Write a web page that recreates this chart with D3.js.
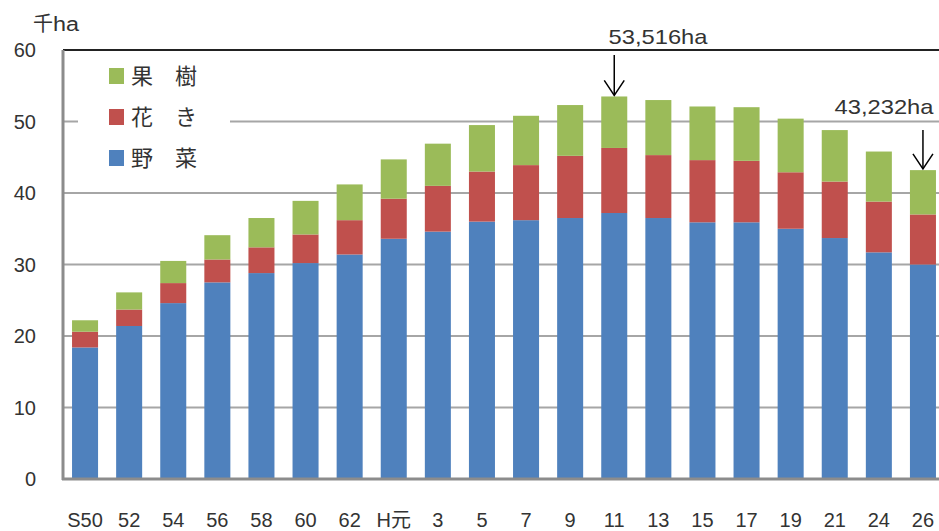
<!DOCTYPE html>
<html><head><meta charset="utf-8">
<script src="https://cdn.jsdelivr.net/npm/d3@7/dist/d3.min.js"></script>
<style>html,body{margin:0;padding:0;background:#fff;}svg{display:block;}</style>
</head><body>
<script>
const categories = ["S50","52","54","56","58","60","62","H元","3","5","7","9","11","13","15","17","19","21","24","26"];
const vegetables = [18.4,21.4,24.6,27.5,28.8,30.2,31.4,33.6,34.6,36.0,36.2,36.5,37.2,36.5,35.9,35.9,35.0,33.7,31.7,30.0];
const flowers    = [2.2,2.3,2.8,3.2,3.6,4.0,4.8,5.6,6.4,7.0,7.7,8.7,9.1,8.8,8.7,8.6,7.9,7.9,7.1,7.0];
const fruits     = [1.6,2.4,3.1,3.4,4.1,4.7,5.0,5.5,5.9,6.5,6.9,7.1,7.2,7.7,7.5,7.5,7.5,7.2,7.0,6.2];
const seriesNames = ["野　菜","花　き","果　樹"];
const seriesColors = ["#4F81BD","#C0504D","#9BBB59"];
const yTicks = [0,10,20,30,40,50,60];
const annotations = [{cat:"11", label:"53,516ha", value:53.516}, {cat:"26", label:"43,232ha", value:43.232}];

const W = 939, H = 531;
const svg = d3.select("body").append("svg").attr("width",W).attr("height",H);
const x = d3.scaleBand().domain(categories).range([63,945]).paddingInner(0.41).paddingOuter(0.205);
const y = d3.scaleLinear().domain([0,60]).range([479,50]);
const textColor = "#333";

// gridlines
svg.append("g").selectAll("line").data(yTicks.filter(d=>d>0)).join("line")
  .attr("x1",63).attr("x2",W).attr("y1",d=>y(d)).attr("y2",d=>y(d))
  .attr("stroke",d=>d===60?"#222":"#a6a6a6").attr("stroke-width",2);

// stacked bars
const table = categories.map((c,i)=>({cat:c, v0:vegetables[i], v1:flowers[i], v2:fruits[i]}));
const stack = d3.stack().keys(["v0","v1","v2"])(table);
svg.append("g").selectAll("g").data(stack).join("g").attr("fill",(d,i)=>seriesColors[i])
  .selectAll("rect").data(d=>d).join("rect")
  .attr("x",d=>x(d.data.cat)).attr("width",x.bandwidth())
  .attr("y",d=>y(d[1])).attr("height",d=>y(d[0])-y(d[1]));

// axes lines
svg.append("line").attr("x1",63).attr("x2",63).attr("y1",y(60)).attr("y2",y(0)+1).attr("stroke","#8c8c8c").attr("stroke-width",3);
svg.append("line").attr("x1",62).attr("x2",W).attr("y1",y(0)).attr("y2",y(0)).attr("stroke","#8c8c8c").attr("stroke-width",3);

// y tick labels
svg.append("g").selectAll("text").data(yTicks).join("text")
  .attr("x",36).attr("y",d=>y(d)).attr("dy","0.36em").attr("text-anchor","end")
  .attr("font-family","Liberation Sans, Arial, sans-serif").attr("font-size",20).attr("fill",textColor)
  .text(d=>d);

// unit label
svg.append("text").attr("x",33).attr("y",31).attr("fill",textColor)
  .attr("font-family","Noto Sans CJK JP, sans-serif").attr("font-size",20).text("千");
svg.append("text").attr("x",53).attr("y",31).attr("fill",textColor)
  .attr("font-family","Liberation Sans, Arial, sans-serif").attr("font-size",20)
  .attr("textLength",26).attr("lengthAdjust","spacingAndGlyphs").text("ha");

// x labels
svg.append("g").selectAll("text").data(categories).join("text")
  .attr("x",d=>x(d)+x.bandwidth()/2).attr("y",527).attr("text-anchor","middle")
  .attr("font-family","Liberation Sans, Noto Sans CJK JP, sans-serif").attr("font-size",20).attr("fill",textColor)
  .text(d=>d);

// legend
const lg = svg.append("g");
lg.append("rect").attr("x",78).attr("y",56).attr("width",152).attr("height",120).attr("fill","#fff");
const order = [2,1,0];
order.forEach((si,k)=>{
  const cy = 76 + k*41;
  lg.append("rect").attr("x",109).attr("y",cy-8).attr("width",15).attr("height",16).attr("fill",seriesColors[si]);
  lg.append("text").attr("x",131).attr("y",cy).attr("dy","0.36em")
    .attr("font-family","Noto Sans CJK JP, sans-serif").attr("font-size",22).attr("fill",textColor)
    .text(seriesNames[si]);
});

// annotations
annotations.forEach((a,i)=>{
  const cx = x(a.cat)+x.bandwidth()/2;
  const top = y(a.value);
  const ay1 = i===0 ? 55 : 130;
  svg.append("line").attr("x1",cx).attr("x2",cx).attr("y1",ay1).attr("y2",top-1).attr("stroke","#000").attr("stroke-width",1.5);
  svg.append("path").attr("d",`M${cx-10},${top-16}L${cx},${top-1}L${cx+10},${top-16}`).attr("fill","none").attr("stroke","#000").attr("stroke-width",1.5);
  const tx = i===0 ? 658 : 884;
  const ty = i===0 ? 44 : 114;
  svg.append("text").attr("x",tx).attr("y",ty).attr("text-anchor","middle")
    .attr("font-family","Liberation Sans, Arial, sans-serif").attr("font-size",21).attr("fill",textColor)
    .attr("textLength",99).attr("lengthAdjust","spacingAndGlyphs")
    .text(a.label);
});
</script>
</body></html>
